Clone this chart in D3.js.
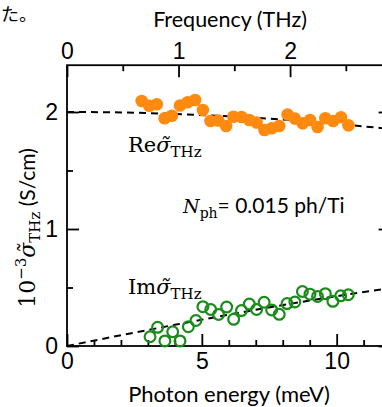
<!DOCTYPE html>
<html>
<head>
<meta charset="utf-8">
<script src="https://cdn.jsdelivr.net/npm/d3@7"></script>
<style>
  html, body { margin: 0; padding: 0; background: #fff; }
  svg { display: block; overflow: hidden; }
</style>
</head>
<body>
<svg id="chart"></svg>
<script>
// photon energy (meV) of each measured point
const reEnergy = [2.77, 3.05, 3.33, 3.62, 3.89, 4.19, 4.47, 4.75, 5.04, 5.32, 5.61, 5.90, 6.17, 6.47,
  6.76, 7.03, 7.32, 7.59, 7.87, 8.18, 8.45, 8.74, 9.01, 9.29, 9.58, 9.87, 10.16, 10.44];
const reSigma = [2.094, 2.054, 2.066, 1.946, 1.968, 2.056, 2.083, 2.103, 2.017, 1.923, 1.927, 1.880, 1.960, 1.957,
  1.932, 1.910, 1.846, 1.861, 1.880, 1.979, 1.943, 1.903, 1.932, 1.872, 1.946, 1.923, 1.955, 1.886];

const imEnergy = [3.08, 3.36, 3.63, 3.92, 4.19, 4.50, 4.78, 5.04, 5.33, 5.62, 5.92, 6.18, 6.47, 6.76,
  7.03, 7.31, 7.59, 7.87, 8.16, 8.45, 8.73, 9.01, 9.29, 9.58, 9.86, 10.15, 10.43];
const imSigma = [0.079, 0.160, 0.043, 0.122, 0.043, 0.165, 0.218, 0.336, 0.312, 0.269, 0.333, 0.228, 0.303, 0.359,
  0.312, 0.374, 0.308, 0.271, 0.363, 0.376, 0.466, 0.443, 0.423, 0.447, 0.382, 0.429, 0.438];

// dashed fit curves
const fitEnergy = [0, 2, 4, 6, 8, 10, 12];
const reFit = [2.0, 1.996, 1.983, 1.963, 1.935, 1.898, 1.855];
const imFit = [0, 0.092, 0.181, 0.268, 0.35, 0.426, 0.495];

const energyTicks = [0, 5, 10];
const energyMinor = [1, 2, 3, 4, 6, 7, 8, 9, 11];
const freqTicks = [0, 1, 2];
const freqMinor = [0.5, 1.5, 2.5];
const sigmaTicks = [0, 1, 2];
const sigmaMinor = [0.5, 1.5];

const MEV_PER_THZ = 4.1357;

const width = 382;
const height = 407;
const sans = 'Lato, "Open Sans", sans-serif';
const serif = '"DejaVu Serif", serif';
const tickFont = '"Liberation Sans", Arial, sans-serif';
const fmt = d3.format('d');

const svg = d3.select('#chart')
  .attr('width', width)
  .attr('height', height);

const x = d3.scaleLinear().domain([0, 12]).range([67, 390.6]);
const y = d3.scaleLinear().domain([0, 2.4]).range([346, 65.2]);
// top axis in THz, same pixels as the energy axis
const xf = d3.scaleLinear()
  .domain([0, 12 / MEV_PER_THZ])
  .range(x.range());

const styleAxis = (g) => {
  g.select('.domain').remove();
  g.selectAll('line').attr('stroke', '#000').attr('stroke-width', 1.8);
  g.selectAll('text')
    .attr('font-family', tickFont)
    .attr('font-size', 23)
    .attr('fill', '#000');
};

// bottom axis
svg.append('g')
  .attr('transform', `translate(0,${y(0)})`)
  .call(d3.axisBottom(x).tickValues(energyTicks).tickSize(-12).tickPadding(7).tickFormat(fmt))
  .call(styleAxis);
svg.append('g')
  .attr('transform', `translate(0,${y(0)})`)
  .call(d3.axisBottom(x).tickValues(energyMinor).tickSize(-6).tickFormat(''))
  .call(styleAxis);

// top axis
svg.append('g')
  .attr('transform', `translate(0,${y(2.4)})`)
  .call(d3.axisTop(xf).tickValues(freqTicks).tickSize(-12).tickPadding(6).tickFormat(fmt))
  .call(styleAxis);
svg.append('g')
  .attr('transform', `translate(0,${y(2.4)})`)
  .call(d3.axisTop(xf).tickValues(freqMinor).tickSize(-6).tickFormat(''))
  .call(styleAxis);

// left axis
svg.append('g')
  .attr('transform', `translate(${x(0)},0)`)
  .call(d3.axisLeft(y).tickValues(sigmaTicks).tickSize(-12).tickPadding(9).tickFormat(fmt))
  .call(styleAxis);
svg.append('g')
  .attr('transform', `translate(${x(0)},0)`)
  .call(d3.axisLeft(y).tickValues(sigmaMinor).tickSize(-6).tickFormat(''))
  .call(styleAxis);

// right axis (mostly off the picture)
svg.append('g')
  .attr('transform', `translate(${x(12)},0)`)
  .call(d3.axisRight(y).tickValues(sigmaTicks).tickSize(-12).tickFormat(''))
  .call(styleAxis);
svg.append('g')
  .attr('transform', `translate(${x(12)},0)`)
  .call(d3.axisRight(y).tickValues(sigmaMinor).tickSize(-6).tickFormat(''))
  .call(styleAxis);

// frame
svg.append('rect')
  .attr('x', x(0))
  .attr('y', y(2.4))
  .attr('width', x(12) - x(0))
  .attr('height', y(0) - y(2.4))
  .attr('fill', 'none')
  .attr('stroke', '#000')
  .attr('stroke-width', 1.8);

// fits
const line = d3.line()
  .x(d => x(d[0]))
  .y(d => y(d[1]))
  .curve(d3.curveMonotoneX);

[reFit, imFit].forEach((fit) => {
  svg.append('path')
    .attr('d', line(fitEnergy.map((e, i) => [e, fit[i]])))
    .attr('fill', 'none')
    .attr('stroke', '#000')
    .attr('stroke-width', 2)
    .attr('stroke-dasharray', '7,5');
});

// Re points
svg.append('g').selectAll('circle')
  .data(reEnergy.map((e, i) => [e, reSigma[i]]))
  .enter().append('circle')
    .attr('cx', d => x(d[0]))
    .attr('cy', d => y(d[1]))
    .attr('r', 6.3)
    .attr('fill', '#ff8a10');

// Im points
svg.append('g').selectAll('circle')
  .data(imEnergy.map((e, i) => [e, imSigma[i]]))
  .enter().append('circle')
    .attr('cx', d => x(d[0]))
    .attr('cy', d => y(d[1]))
    .attr('r', 5.4)
    .attr('fill', 'none')
    .attr('stroke', '#1a8c1a')
    .attr('stroke-width', 2.2);

// text
svg.append('text')
  .attr('x', 1)
  .attr('y', 21)
  .attr('font-family', '"Noto Sans CJK JP", sans-serif')
  .attr('font-size', 18)
  .text('た。');

svg.append('text')
  .attr('x', 230)
  .attr('y', 26.5)
  .attr('text-anchor', 'middle')
  .attr('font-family', sans)
  .attr('font-size', 21.5)
  .text('Frequency (THz)');

svg.append('text')
  .attr('x', 229)
  .attr('y', 402)
  .attr('text-anchor', 'middle')
  .attr('font-family', sans)
  .attr('font-size', 22)
  .text('Photon energy (meV)');

const sigmaLabel = (prefix, xPos, yPos) => {
  const t = svg.append('text')
    .attr('x', xPos)
    .attr('y', yPos)
    .attr('font-family', serif)
    .attr('font-size', 21);
  t.append('tspan').text(prefix);
  t.append('tspan').attr('font-style', 'italic').text('σ\u0303');
  t.append('tspan').attr('font-size', 15).attr('dy', 5).text('THz');
};
sigmaLabel('Re', 128, 152);
sigmaLabel('Im', 128, 294);

const nph = svg.append('text')
  .attr('x', 183)
  .attr('y', 213)
  .attr('font-family', serif)
  .attr('font-size', 19);
nph.append('tspan').attr('font-style', 'italic').text('N');
nph.append('tspan').attr('font-size', 14).attr('dy', 5).text('ph');
nph.append('tspan').attr('font-family', sans).attr('font-size', 21).attr('dy', -5).text('= 0.015 ph/Ti');

// y axis label
const yl = svg.append('text')
  .attr('transform', 'translate(35,228) rotate(-90)')
  .attr('text-anchor', 'middle')
  .attr('font-family', serif)
  .attr('font-size', 22);
yl.append('tspan').text('10');
yl.append('tspan').attr('font-size', 15).attr('dy', -9).text('−3');
yl.append('tspan').attr('font-style', 'italic').attr('dy', 9).text('σ\u0303');
yl.append('tspan').attr('font-size', 15).attr('dy', 5).text('THz');
yl.append('tspan').attr('font-family', sans).attr('font-size', 21).attr('dy', -5).text(' (S/cm)');
</script>
</body>
</html>
